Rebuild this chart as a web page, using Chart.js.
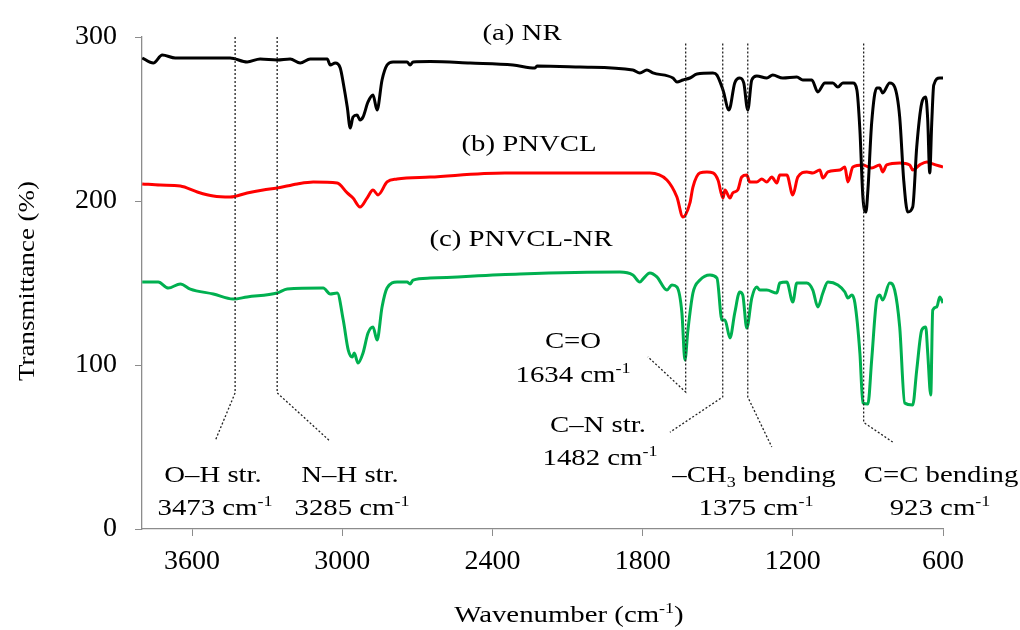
<!DOCTYPE html>
<html>
<head>
<meta charset="utf-8">
<script src="https://cdn.jsdelivr.net/npm/chart.js@4.4.1/dist/chart.umd.min.js"></script>
<style>
  html, body { margin: 0; padding: 0; background: #fff; }
  #wrap { width: 1020px; height: 630px; }
</style>
</head>
<body>
<div id="wrap"><canvas id="c" width="1020" height="630"></canvas></div>
<script>
// wavenumber (cm-1) and transmittance (%)
const nrWn = [3799,3755,3719,3667,3567,3448,3380,3328,3260,3208,3168,3128,3060,3048,3028,3008,2996,2980,2968,2957,2941,2929,2917,2897,2877,2861,2841,2821,2797,2741,2729,2717,2649,2489,2318,2230,2222,2050,1839,1811,1783,1759,1679,1663,1639,1611,1583,1519,1503,1479,1455,1432,1412,1396,1380,1364,1344,1304,1280,1240,1184,1160,1124,1100,1072,1040,1020,1000,960,944,932,920,908,900,885,865,853,841,813,793,773,757,741,721,705,685,669,661,653,645,637,613,600];
const nrT = [287.2,284.1,289.0,287.2,287.2,287.2,284.8,286.6,286.0,286.6,284.1,286.6,286.6,282.9,284.1,281.1,272.0,257.3,244.5,251.2,252.4,249.4,251.2,260.4,264.6,255.5,273.8,282.9,284.8,284.8,282.9,284.8,285.0,284.1,282.9,281.1,282.3,281.7,279.9,278.1,279.9,278.1,275.0,272.6,273.8,275.0,277.4,278.0,276.8,267.7,255.5,272.0,275.0,272.0,255.5,273.8,276.2,275.0,276.8,275.0,275.6,273.8,273.8,266.5,272.0,272.0,269.5,272.0,272.0,267.7,243.3,202.4,193.3,206.7,247.6,268.9,268.9,265.9,272.0,269.5,251.2,212.8,193.3,196.3,232.9,259.7,263.4,249.4,217.1,247.6,270.7,275.0,275.0];

const pnvclWn = [3799,3727,3647,3579,3515,3448,3380,3316,3260,3180,3116,3020,2980,2957,2929,2901,2877,2857,2821,2781,2649,2350,2022,1771,1703,1663,1639,1611,1599,1571,1543,1519,1499,1479,1471,1451,1440,1420,1404,1384,1372,1344,1324,1304,1284,1264,1252,1224,1200,1180,1144,1120,1092,1080,1060,1012,992,980,960,920,885,853,841,825,773,733,721,693,665,641,600];
const pnvclT = [210.4,209.7,209.1,205.5,203.0,202.4,204.9,206.7,207.9,210.4,211.6,211.0,204.9,201.8,196.3,201.8,206.7,203.7,211.6,213.4,214.6,217.1,217.1,217.1,212.8,202.4,190.2,198.8,208.5,217.1,217.7,217.1,212.8,201.8,206.7,201.8,204.9,206.7,214.6,215.8,211.6,211.6,213.4,211.6,214.6,211.0,215.8,215.8,203.7,214.6,217.7,217.1,218.9,214.0,217.7,218.9,220.7,211.6,220.7,222.0,220.1,222.0,217.7,222.0,223.2,222.0,218.9,222.0,223.8,222.6,220.7];

const blendWn = [3799,3735,3695,3647,3607,3515,3436,3380,3260,3220,3076,3048,3020,2996,2976,2960,2952,2937,2917,2897,2877,2861,2841,2821,2781,2741,2729,2717,2649,2290,1891,1839,1811,1799,1771,1743,1703,1683,1663,1643,1631,1619,1599,1571,1531,1503,1483,1471,1451,1432,1412,1400,1384,1364,1344,1332,1304,1264,1252,1224,1200,1184,1144,1120,1100,1080,1060,1020,992,980,964,952,932,920,900,885,865,853,841,813,793,773,753,721,705,685,669,661,649,641,625,613,600];
const blendT = [150.6,150.6,146.9,149.4,146.3,143.3,140.2,141.5,143.9,146.3,146.9,143.3,143.9,127.4,109.1,104.9,107.3,101.2,107.3,119.5,123.2,115.2,135.4,146.9,150.6,150.6,149.4,151.8,153.0,155.5,156.7,154.9,150.6,152.4,156.1,153.7,145.7,148.8,147.6,131.7,103.0,121.3,143.9,151.8,154.9,153.0,127.4,127.4,116.5,131.7,144.5,142.7,122.6,140.8,147.6,145.7,145.7,143.9,150.0,150.6,138.4,150.0,150.0,145.7,135.4,143.9,150.6,148.8,144.5,140.8,142.7,137.8,107.3,76.8,76.2,103.0,139.6,142.7,139.6,150.0,145.7,123.2,76.8,75.6,96.9,121.3,123.2,107.3,81.7,133.5,135.4,141.5,137.8];

const xTicks = [600, 1200, 1800, 2400, 3000, 3600];
const yTicks = [0, 100, 200, 300];

const seriesNames = ['(a) NR', '(b) PNVCL', '(c) PNVCL-NR'];

// dotted leader lines from each band down to its label (wn, T)
const leaders = [
  { wn: 3428, top: 300, bendT: 83, endWn: 3507, endT: 54 },
  { wn: 3260, top: 300, bendT: 83, endWn: 3052, endT: 54 },
  { wn: 1628, top: 296, bendT: 83.5, endWn: 1779, endT: 105 },
  { wn: 1480, top: 296, bendT: 80.5, endWn: 1691, endT: 59 },
  { wn: 1380, top: 296, bendT: 80.5, endWn: 1284, endT: 50 },
  { wn: 917, top: 296, bendT: 65, endWn: 801, endT: 53 }
];

const SERIF = '"Liberation Serif", "Times New Roman", serif';
const SX = 1.2; // the source figure is stretched sideways

const texts = [
  { x: 522, y: 40, parts: [{ t: seriesNames[0] }] },
  { x: 529, y: 151, parts: [{ t: seriesNames[1] }] },
  { x: 521, y: 246, parts: [{ t: seriesNames[2] }] },
  { x: 573, y: 348, parts: [{ t: 'C=O' }] },
  { x: 573, y: 382, parts: [{ t: '1634 cm' }, { t: '-1', sup: true }] },
  { x: 598, y: 432, parts: [{ t: 'C–N str.' }] },
  { x: 600, y: 465, parts: [{ t: '1482 cm' }, { t: '-1', sup: true }] },
  { x: 213, y: 482, parts: [{ t: 'O–H str.' }] },
  { x: 215, y: 515, parts: [{ t: '3473 cm' }, { t: '-1', sup: true }] },
  { x: 350, y: 482, parts: [{ t: 'N–H str.' }] },
  { x: 352, y: 515, parts: [{ t: '3285 cm' }, { t: '-1', sup: true }] },
  { x: 754, y: 482, parts: [{ t: '–CH' }, { t: '3', sub: true }, { t: ' bending' }] },
  { x: 756, y: 515, parts: [{ t: '1375 cm' }, { t: '-1', sup: true }] },
  { x: 941, y: 482, parts: [{ t: 'C=C bending' }] },
  { x: 940, y: 515, parts: [{ t: '923 cm' }, { t: '-1', sup: true }] },
  { x: 569, y: 622, parts: [{ t: 'Wavenumber (cm' }, { t: '-1', sup: true }, { t: ')' }] }
];

function pts(wn, t) {
  return wn.map((w, i) => ({ x: w, y: t[i] }));
}

function drawRich(ctx, x, y, parts, size, rot, sx) {
  const small = Math.round(size * 0.62);
  ctx.save();
  ctx.translate(x, y);
  if (rot) ctx.rotate(rot);
  ctx.scale(sx || SX, 1);
  ctx.fillStyle = '#000';
  ctx.textBaseline = 'alphabetic';
  ctx.textAlign = 'left';
  let total = 0;
  const widths = parts.map(p => {
    ctx.font = ((p.sup || p.sub) ? small : size) + 'px ' + SERIF;
    const w = ctx.measureText(p.t).width;
    total += w;
    return w;
  });
  let cx = -total / 2;
  parts.forEach((p, i) => {
    ctx.font = ((p.sup || p.sub) ? small : size) + 'px ' + SERIF;
    const dy = p.sup ? -size * 0.38 : (p.sub ? size * 0.2 : 0);
    ctx.fillText(p.t, cx, dy);
    cx += widths[i];
  });
  ctx.restore();
}

const annotate = {
  id: 'annotate',
  afterDatasetsDraw(chart) {
    const ctx = chart.ctx;
    const xs = chart.scales.x, ys = chart.scales.y;
    ctx.save();
    ctx.strokeStyle = '#222';
    ctx.lineWidth = 1.3;
    ctx.setLineDash([2, 2]);
    leaders.forEach(l => {
      const px = xs.getPixelForValue(l.wn);
      ctx.beginPath();
      ctx.moveTo(px, ys.getPixelForValue(l.top));
      ctx.lineTo(px, ys.getPixelForValue(l.bendT));
      ctx.lineTo(xs.getPixelForValue(l.endWn), ys.getPixelForValue(l.endT));
      ctx.stroke();
    });
    ctx.restore();
  },
  afterDraw(chart) {
    const ctx = chart.ctx;
    texts.forEach(t => drawRich(ctx, t.x, t.y, t.parts, 24));
    drawRich(ctx, 34, 281, [{ t: 'Transmittance (%)' }], 24, -Math.PI / 2, 1.12);
  }
};

const axisGrey = '#8c8c8c';

new Chart(document.getElementById('c').getContext('2d'), {
  type: 'line',
  data: {
    datasets: [
      { label: seriesNames[0], data: pts(nrWn, nrT), borderColor: '#000000' },
      { label: seriesNames[1], data: pts(pnvclWn, pnvclT), borderColor: '#ff0000' },
      { label: seriesNames[2], data: pts(blendWn, blendT), borderColor: '#00b050' }
    ]
  },
  options: {
    responsive: false,
    animation: false,
    devicePixelRatio: 1,
    layout: { padding: { left: 0, right: 77, top: 37, bottom: 0 } },
    elements: {
      point: { radius: 0 },
      line: { borderWidth: 3, cubicInterpolationMode: 'monotone', fill: false }
    },
    plugins: {
      legend: { display: false },
      tooltip: { enabled: false }
    },
    scales: {
      x: {
        type: 'linear',
        reverse: true,
        min: 600,
        max: 3800,
        afterBuildTicks: s => { s.ticks = xTicks.map(v => ({ value: v })); },
        afterFit: s => { s.height = 101; },
        grid: { drawOnChartArea: false, tickLength: 7, color: axisGrey },
        border: { color: axisGrey, width: 1.3 },
        ticks: {
          autoSkip: false, maxRotation: 0, padding: 9, color: '#000',
          font: { family: SERIF, size: 28 },
          callback: v => String(v)
        }
      },
      y: {
        min: 0,
        max: 300,
        afterBuildTicks: s => { s.ticks = yTicks.map(v => ({ value: v })); },
        afterFit: s => { s.width = 142; },
        grid: { drawOnChartArea: false, tickLength: 7, color: axisGrey },
        border: { color: axisGrey, width: 1.3 },
        ticks: {
          padding: 18, color: '#000',
          font: { family: SERIF, size: 28 },
          callback: v => String(v)
        }
      }
    }
  },
  plugins: [annotate]
});
</script>
</body>
</html>
